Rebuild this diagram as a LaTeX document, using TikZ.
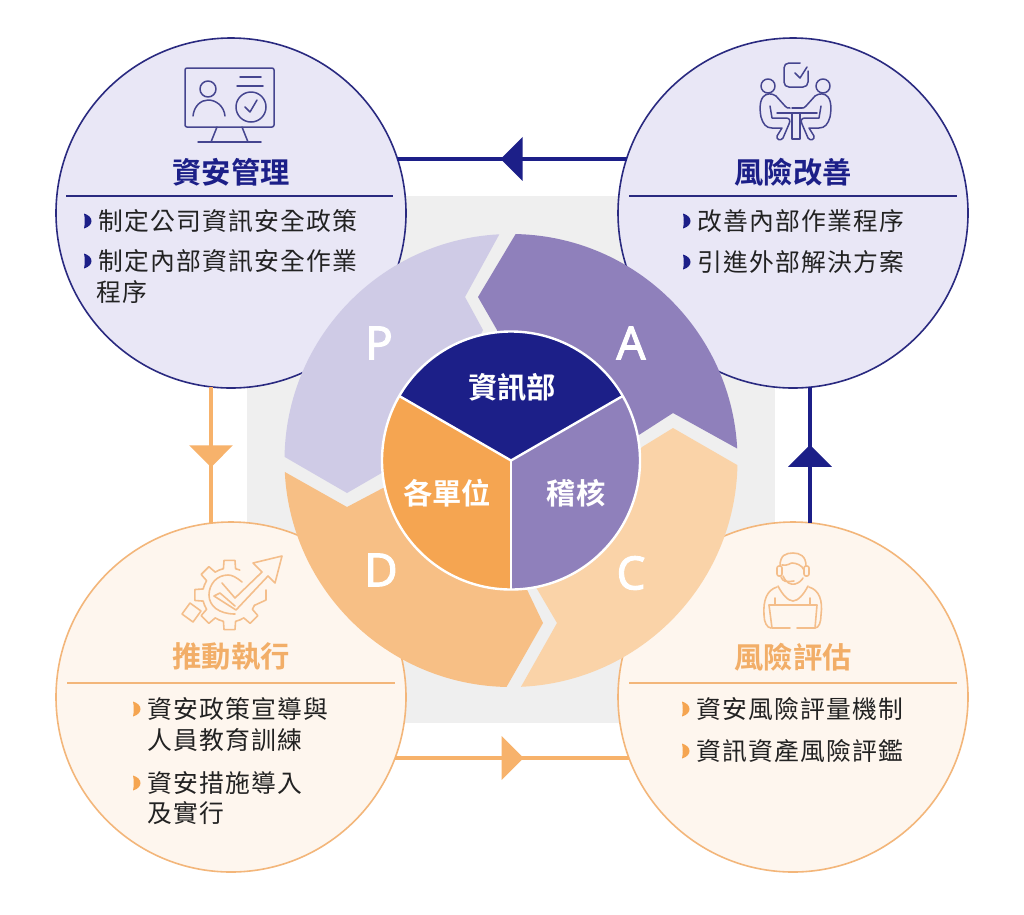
\documentclass[tikz,border=0pt]{standalone}
\usepackage{fontspec}
\usetikzlibrary{arrows.meta,decorations.markings,calc}
\newfontfamily\cjkfont[LetterSpace=5]{Noto Sans CJK TC}
\newfontfamily\cjkhead{Noto Sans CJK TC}[BoldFont=* Bold]
\newfontfamily\latinfont[FakeBold=2]{Noto Sans}
\definecolor{navy}{HTML}{1C1F88}
\definecolor{navyline}{HTML}{2A2A80}
\definecolor{iconnavy}{HTML}{45458F}
\definecolor{orange}{HTML}{F5A551}
\definecolor{orangeline}{HTML}{F3B67A}
\definecolor{orangetitle}{HTML}{F2AE68}
\definecolor{orangeicon}{HTML}{F4BE8B}
\definecolor{pfill}{HTML}{CFCBE6}
\definecolor{afill}{HTML}{8F80BB}
\definecolor{cfill}{HTML}{FAD3A8}
\definecolor{dfill}{HTML}{F7BF85}
\definecolor{purplecirc}{HTML}{E9E7F6}
\definecolor{orangecirc}{HTML}{FEF6EE}
\definecolor{greybg}{HTML}{EFEFEF}
\definecolor{bodytext}{HTML}{222222}
\newcommand{\bulmark}[3]{\fill[#3,shift={(#1,#2)}] (0,-7.5) .. controls (5,-6) and (7.5,-3) .. (7.5,0) .. controls (7.5,3) and (5,6) .. (0,7.5) .. controls (1,3) and (1,-3) .. (0,-7.5) -- cycle;}
\newcommand{\seatedperson}{%
  \draw[iconn] (768,86) circle[radius=7pt];
  \draw[iconn] (776,96) .. controls (772,93) and (766,93) .. (763,97) .. controls (759,102) and (760,112) .. (761,117) .. controls (763,124) and (766,128) .. (772,128) -- (782,128) -- (777,136) .. controls (776,140) and (781,141) .. (783,138) -- (789,124) .. controls (791,120) and (789,118) .. (786,118) -- (772,118) -- (770,106);
  \draw[iconn] (776,96) -- (785,106) .. controls (786,108) and (788,108) .. (790,108);
}
\tikzset{
  bigcirc/.style={circle,minimum size=350pt,inner sep=0pt,outer sep=0pt,draw,line width=1.6pt},
  pdcirc/.style={bigcirc,draw=navyline,fill=purplecirc},
  orcirc/.style={bigcirc,draw=orangeline,fill=orangecirc},
  headlabel/.style={font=\cjkhead\bfseries\fontsize{29.3}{30}\selectfont,inner sep=0pt},
  bodylabel/.style={font=\cjkfont\fontsize{24.8}{26}\selectfont,text=bodytext,anchor=west,inner sep=0pt},
  inlabel/.style={font=\cjkhead\bfseries\fontsize{29.3}{30}\selectfont,text=white,inner sep=0pt},
  letterlabel/.style={font=\latinfont\fontsize{46}{47}\selectfont,text=white,inner sep=0pt},
  conn/.style={line width=4pt},
  tipped/.style n args={2}{postaction={decorate},decoration={markings,mark=at position #1 with {\arrow[#2]{Triangle[length=22pt,width=43pt]}}}},
  iconn/.style={draw=iconnavy,line width=1.5pt,line join=round,line cap=round},
  icono/.style={draw=orangeicon,line width=1.6pt,line join=round,line cap=round},
}
\begin{document}
\begin{tikzpicture}[x=1pt,y=-1pt]
\useasboundingbox (0,0) rectangle (1024,914);
\fill[white] (0,0) rectangle (1024,914);
\fill[greybg] (247,196) rectangle (775,723);

% circles
\node[pdcirc] (tl) at (231,213) {};
\node[pdcirc] (tr) at (793,213) {};
\node[orcirc] (bl) at (231,697) {};
\node[orcirc] (br) at (793,697) {};

% connectors
\draw[conn,navy,tipped={0.55}{navy}] ($(tr.center)+(162:175pt)$) -- ($(tl.center)+(18:175pt)$);
\draw[conn,orange!85!white,tipped={0.59}{orange!85!white}] ($(tl.center)+(263.44:175pt)$) -- ($(bl.center)+(96.56:175pt)$);
\draw[conn,navy,tipped={0.575}{navy}] ($(br.center)+(84.43:175pt)$) -- ($(tr.center)+(275.57:175pt)$);
\draw[conn,orange!85!white,tipped={0.55}{orange!85!white}] ($(bl.center)+(-20.4:175pt)$) -- ($(br.center)+(200.4:175pt)$);

% headings
\node[headlabel,text=navy] (h1) at (231,172) {資安管理};
\node[headlabel,text=navy] (h2) at (793,172) {風險改善};
\node[headlabel,text=orangetitle] (h3) at (231,657) {推動執行};
\node[headlabel,text=orangetitle] (h4) at (793,657) {風險評估};

% rules
\draw[navyline,line width=1.4pt] (66,196) -- (393,196);
\draw[navyline,line width=1.4pt] (629,196) -- (957,196);
\draw[orangeline,line width=1.4pt] (67,683) -- (395,683);
\draw[orangeline,line width=1.4pt] (629,683) -- (957,683);

% body text
\bulmark{84}{221}{navy}
\node[bodylabel] (t1) at (98,221) {制定公司資訊安全政策};
\bulmark{84}{261}{navy}
\node[bodylabel] (t2) at (98,261) {制定內部資訊安全作業};
\node[bodylabel] (t3) at (96,292) {程序};
\bulmark{683}{221}{navy}
\node[bodylabel] (t4) at (697,221) {改善內部作業程序};
\bulmark{683}{262}{navy}
\node[bodylabel] (t5) at (697,262) {引進外部解決方案};
\bulmark{133}{709}{orange}
\node[bodylabel] (t6) at (147,709) {資安政策宣導與};
\node[bodylabel] (t7) at (147,740) {人員教育訓練};
\bulmark{133}{783}{orange}
\node[bodylabel] (t8) at (147,783) {資安措施導入};
\node[bodylabel] (t9) at (147,813) {及實行};
\bulmark{682}{709}{orange}
\node[bodylabel] (t10) at (696,709) {資安風險評量機制};
\bulmark{682}{751}{orange}
\node[bodylabel] (t11) at (696,751) {資訊資產風險評鑑};

% monitor icon
\draw[iconn,rounded corners=2pt] (185,68) rectangle (274,127);
\draw[iconn] (208,89) circle[radius=8pt];
\draw[iconn] (193,116) .. controls (194,106) and (201,100) .. (208,100) .. controls (216,100) and (224,106) .. (225,116);
\draw[iconn] (240,77) -- (261,77);
\draw[iconn] (237,86) -- (263,86);
\draw[iconn] (251,107) circle[radius=15pt];
\draw[iconn] (245,107) -- (250,112) -- (257,100);
\draw[iconn] (217,127) -- (211,142);
\draw[iconn] (242,127) -- (248,142);
\draw[iconn] (198,142) -- (261,142);

% meeting icon
\draw[iconn] (808,71) -- (808,82) .. controls (808,85) and (806,87) .. (803,87) -- (789,87) .. controls (786,87) and (784,85) .. (784,82) -- (784,68) .. controls (784,65) and (786,63) .. (789,63) -- (800,63);
\draw[iconn] (795,73) -- (800,78) -- (807,67);
\draw[iconn] (792,113) -- (792,139) -- (800,139) -- (800,113);
\draw[iconn] (777,113) -- (817,113);
\draw[iconn] (792,108) -- (802,108);
\seatedperson
\begin{scope}[shift={(1591,0)},xscale=-1]
\seatedperson
\end{scope}

% gear icon
\coordinate (g) at (229.5,595);
\foreach \a in {90,135,180,225,270,315}{
  \draw[icono] ($(g)+(\a-22.5:27pt)$) -- ($(g)+(\a-13:27pt)$) -- ($(g)+(\a-9:35pt)$) -- ($(g)+(\a+9:35pt)$) -- ($(g)+(\a+13:27pt)$) -- ($(g)+(\a+22.5:27pt)$);
}
\draw[icono] (266,590) -- (266,600) -- ($(g)+(-22.5:27pt)$);
\draw[icono] (182,614) -- (190,603) -- (201,611) -- (193,622) -- cycle;
\draw[icono] (222,583) -- (235,598) -- (262,572) -- (253,563) -- (282,556) -- (275,583) -- (268,576) -- (236,610) -- (214,596) -- (220,593) -- (235,606);
\draw[icono] (242,582) .. controls (236,577) and (232,575) .. (228,575) .. controls (217,575) and (209,584) .. (209,595) .. controls (209,606) and (219,614) .. (235,614);

% headset icon
\draw[icono] (780,566) .. controls (780,555) and (786,553) .. (793,553) .. controls (800,553) and (806,556) .. (806,566);
\draw[icono] (782,565) .. controls (788,566) and (790,563) .. (792,563) .. controls (796,563) and (802,565) .. (804,570);
\draw[icono] (783,576) .. controls (786,583) and (791,585) .. (795,584) .. controls (799,583) and (802,580) .. (803,578);
\draw[icono,rounded corners=2pt] (777,566) rectangle (782,576);
\draw[icono,rounded corners=2pt] (804,566) rectangle (809,576);
\draw[icono] (781,577) .. controls (783,582) and (786,582) .. (794,581);
\draw[icono] (777,587) .. controls (767,590) and (763,600) .. (764,615) .. controls (764,622) and (767,628) .. (771,628);
\draw[icono] (809,587) .. controls (819,590) and (823,600) .. (821,615) .. controls (821,622) and (819,628) .. (815,628);
\draw[icono] (778,586) .. controls (782,594) and (788,601) .. (793,601) .. controls (798,601) and (804,594) .. (808,586);
\draw[icono] (769,605) -- (772,628) -- (790,628);
\draw[icono] (797,628) -- (815,628) -- (817,605) -- (769,605);
\draw[icono] (775,598) -- (775,605);
\draw[icono] (810,598) -- (810,605);

% wheel
\coordinate (wc) at (511,460.5);
\begin{scope}
\clip (wc) circle[radius=226.5pt];
\fill[pfill] (483,330) -- (465,297) -- (511,213) -- (511,150) -- (150,150) -- (150,379) -- (347,493) -- (430,445) -- cycle;
\fill[afill] (497,330) -- (478,297) -- (527,215) -- (527,150) -- (850,150) -- (850,511) -- (673,413) -- (600,460) -- (511,460) -- cycle;
\fill[cfill] (642,447) -- (673,428) -- (850,530) -- (850,800) -- (457,800) -- (557,623) -- (520,560) -- (600,500) -- cycle;
\fill[dfill] (383,488) -- (347,507) -- (150,396) -- (150,800) -- (442,800) -- (543,623) -- (520,575) -- (480,500) -- cycle;
\end{scope}
\begin{scope}
\clip (wc) circle[radius=129pt];
\fill[navy] (wc) -- ++(200,-115.5) -- ++(0,-200) -- ++(-400,0) -- ++(0,200) -- cycle;
\fill[afill] (wc) -- ++(200,-115.5) -- ++(0,400) -- ++(-200,0) -- cycle;
\fill[orange] (wc) -- ++(-200,-115.5) -- ++(0,400) -- ++(200,0) -- cycle;
\draw[white,line width=2.4pt] (wc) -- ++(200,-115.5);
\draw[white,line width=2.4pt] (wc) -- ++(-200,-115.5);
\draw[white,line width=2.4pt] (wc) -- ++(0,200);
\end{scope}
\draw[white,line width=2.4pt] (wc) circle[radius=129pt];

\node[inlabel] (n1) at (512,387) {資訊部};
\node[inlabel] (n2) at (447,493) {各單位};
\node[inlabel] (n3) at (576,493) {稽核};
\node[letterlabel] (lp) at (379,343) {P};
\node[letterlabel] (la) at (631,343) {A};
\node[letterlabel] (ld) at (381,570) {D};
\node[letterlabel] (lc) at (631,573) {C};
\end{tikzpicture}
\end{document}
